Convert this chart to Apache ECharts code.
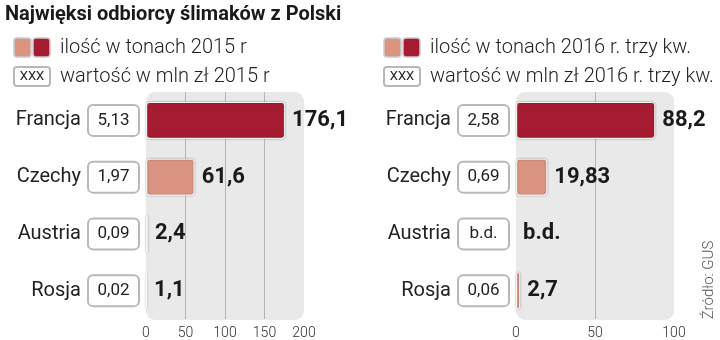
<!DOCTYPE html>
<html><head><meta charset="utf-8">
<script src="https://cdn.jsdelivr.net/npm/echarts@6/dist/echarts.min.js"></script>
<style>html,body{margin:0;padding:0;background:#fff}#c{width:720px;height:340px}</style>
</head><body><div id="c"></div>
<script>
const categories = ['Francja', 'Czechy', 'Austria', 'Rosja'];
const tons2015 = [176.1, 61.6, 2.4, 1.1];
const value2015 = ['5,13', '1,97', '0,09', '0,02'];
const tons2016 = [88.2, 19.83, null, 2.7];
const value2016 = ['2,58', '0,69', 'b.d.', '0,06'];
const ticks2015 = [0, 50, 100, 150, 200];
const ticks2016 = [0, 50, 100];

const DARK = '#a51c32', LIGHT = '#dc9482';
const FONT = 'Roboto';
const fmt = v => String(v).replace('.', ',');

function barData(arr) {
  return arr.map((v, i) => {
    if (v === null) return { value: 0, itemStyle: { color: 'rgba(0,0,0,0)', borderWidth: 0, shadowBlur: 0, shadowColor: 'rgba(0,0,0,0)' }, label: { formatter: 'b.d.' } };
    return { value: v, itemStyle: { color: i === 0 ? DARK : LIGHT } };
  });
}
function yAxisFor(gi, boxes) {
  return {
    type: 'category', gridIndex: gi, data: categories, inverse: true,
    axisLine: { show: false }, axisTick: { show: false },
    axisLabel: {
      margin: 8,
      formatter: (v, i) => '{n|' + v + '}{b|' + boxes[i] + '}',
      rich: {
        n: { fontFamily: FONT, fontSize: 20, color: '#222', padding: [0, 8, 0, 0] },
        b: { fontFamily: FONT, fontSize: 17, color: '#222', width: 49, height: 29, align: 'center',
             backgroundColor: '#fff', borderColor: '#b8b8b8', borderWidth: 2, borderRadius: 4 }
      }
    }
  };
}
function xAxisFor(gi, ticks) {
  return {
    type: 'value', gridIndex: gi, min: ticks[0], max: ticks[ticks.length - 1], interval: ticks[1] - ticks[0],
    axisLine: { show: false }, axisTick: { show: false },
    axisLabel: { margin: 7, fontFamily: FONT, fontSize: 14, fontWeight: 300, color: '#333',
      formatter: v => ticks.includes(v) ? String(v) : '' },
    splitLine: { show: true, showMinLine: false, showMaxLine: false, lineStyle: { color: '#b5b5b5', width: 1 } }
  };
}
function barSeries(gi, arr) {
  return {
    type: 'bar', xAxisIndex: gi, yAxisIndex: gi, data: barData(arr), barWidth: 37,
    itemStyle: { borderRadius: 3, borderColor: 'rgba(255,255,255,0.9)', borderWidth: 1.2,
      shadowColor: 'rgba(0,0,0,0.35)', shadowBlur: 2 },
    label: { show: true, position: 'right', distance: 7, fontFamily: FONT, fontWeight: 'bold', fontSize: 22,
      color: '#1a1a1a', formatter: p => (p.data && p.data.label && p.data.label.formatter) ? p.data.label.formatter : fmt(p.value) }
  };
}
function swatch(x, y) {
  return [
    { type: 'rect', shape: { x: x, y: y, width: 17, height: 19, r: 3 }, style: { fill: LIGHT, stroke: '#ccc', lineWidth: 1.5 } },
    { type: 'rect', shape: { x: x + 19, y: y, width: 17, height: 19, r: 3 }, style: { fill: DARK, stroke: '#ccc', lineWidth: 1.5 } }
  ];
}
function xbox(x, y) {
  return [
    { type: 'rect', shape: { x: x, y: y, width: 36, height: 19, r: 3 }, style: { fill: '#fff', stroke: '#b8b8b8', lineWidth: 2 } },
    { type: 'text', x: x + 18, y: y + 10, style: { text: 'XXX', fontFamily: FONT, fontSize: 13, fill: '#222', align: 'center', verticalAlign: 'middle' } }
  ];
}
function ltext(x, y, t) {
  return { type: 'text', x: x, y: y, style: { text: t, fontFamily: FONT, fontSize: 20, fontWeight: 300, fill: '#222', verticalAlign: 'middle' } };
}

const chart = echarts.init(document.getElementById('c'), null, { renderer: 'canvas' });
chart.setOption({
  animation: false,
  grid: [
    { left: 146, top: 92, width: 158, height: 228 },
    { left: 516, top: 92, width: 158, height: 228 }
  ],
  xAxis: [xAxisFor(0, ticks2015), xAxisFor(1, ticks2016)],
  yAxis: [yAxisFor(0, value2015), yAxisFor(1, value2016)],
  series: [barSeries(0, tons2015), barSeries(1, tons2016)],
  graphic: [
    { type: 'rect', z: -10, shape: { x: 146, y: 92, width: 158, height: 228, r: 9 }, style: { fill: '#e9e9e9' } },
    { type: 'rect', z: -10, shape: { x: 516, y: 92, width: 158, height: 228, r: 9 }, style: { fill: '#e9e9e9' } },
    { type: 'text', x: 5, y: 15, style: { text: 'Najwięksi odbiorcy ślimaków z Polski', fontFamily: FONT, fontWeight: 'bold', fontSize: 20, fill: '#1a1a1a', verticalAlign: 'middle' } },
    ...swatch(14, 38), ltext(60, 48, 'ilość w tonach 2015 r'),
    ...xbox(14, 67), ltext(60, 77, 'wartość w mln zł 2015 r'),
    ...swatch(384, 38), ltext(430, 48, 'ilość w tonach 2016 r. trzy kw.'),
    ...xbox(384, 67), ltext(430, 77, 'wartość w mln zł 2016 r. trzy kw.'),
    { type: 'text', x: 709, y: 280, rotation: Math.PI / 2,
      style: { text: 'Źródło: GUS', fontFamily: FONT, fontSize: 15, fontWeight: 300, fill: '#555', align: 'center', verticalAlign: 'middle' } }
  ]
});
</script>
</body></html>
